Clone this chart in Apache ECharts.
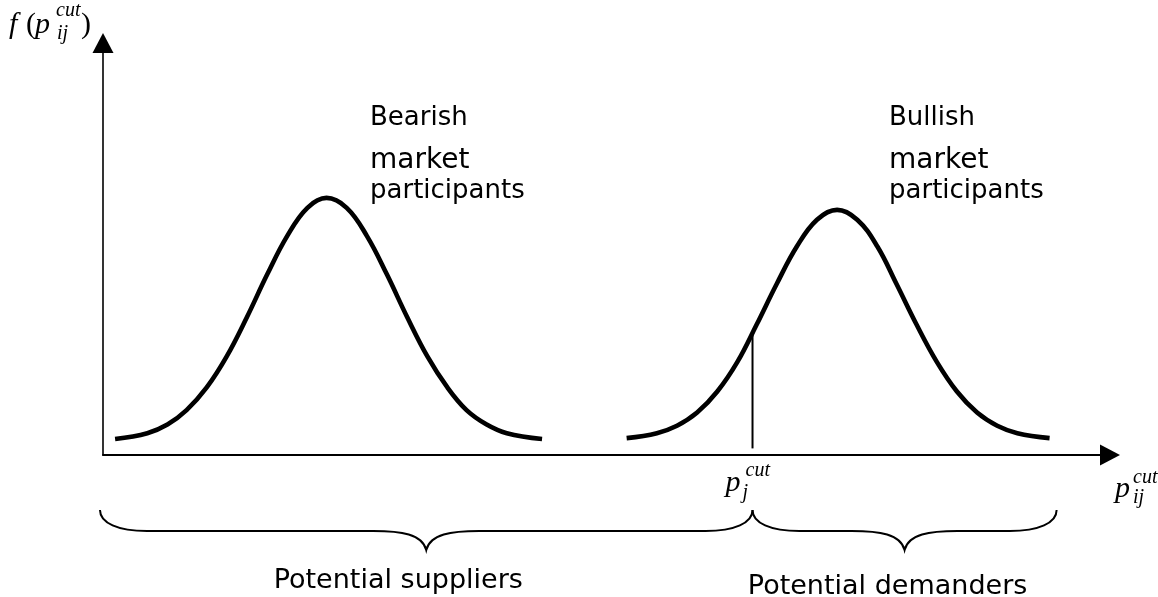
<!DOCTYPE html>
<html>
<head>
<meta charset="utf-8">
<script src="https://cdn.jsdelivr.net/npm/echarts@6/dist/echarts.min.js"></script>
<style>
  html, body { margin: 0; padding: 0; background: #fff; }
  #chart { width: 1158px; height: 597px; }
</style>
</head>
<body>
<div id="chart"></div>
<script>
// Price axis samples and density values for the two groups of participants
const bearishX = [1.2, 4.4, 6.4, 8.3, 10.3, 12.3, 14.3, 16.3, 18.3, 20.3, 22.2, 24.2, 26.2, 28.2, 30.2, 32.2, 34.2, 36.1, 38.1, 40.1, 43.6];
const bearishY = [3.9, 5.3, 7.4, 10.9, 16.4, 24.0, 33.5, 43.8, 53.2, 60.0, 62.4, 60.0, 53.2, 43.8, 33.5, 24.0, 16.4, 10.9, 7.4, 5.3, 3.9];
const bullishX = [52.0, 55.0, 57.0, 59.0, 61.0, 63.0, 64.9, 66.9, 68.9, 70.9, 72.9, 74.9, 76.9, 78.8, 80.8, 82.8, 84.8, 86.8, 88.8, 90.8, 94.0];
const bullishY = [4.1, 5.3, 7.1, 10.3, 15.4, 22.6, 31.6, 41.5, 50.6, 57.1, 59.5, 57.1, 50.6, 41.5, 31.6, 22.6, 15.4, 10.3, 7.1, 5.3, 4.1];

// Cut-off price and the density where the marker meets the bullish curve
const cutPrice = 64.5;
const cutDensity = 29.9;

// Brace spans along the price axis and their captions
const braceSpans = [[-0.3, 64.5], [64.5, 94.7]];
const braceLabels = ['Potential suppliers', 'Potential demanders'];

// Group captions above each curve
const groupTitles = [['Bearish', 'market', 'participants'], ['Bullish', 'market', 'participants']];

const SANS = '"DejaVu Sans", Verdana, sans-serif';
const SERIF = '"Liberation Serif", "Times New Roman", serif';

function zip(xs, ys) { return xs.map((x, i) => [x, ys[i]]); }

// text placed by its baseline (canvas draws with a middle baseline)
function txt(str, x, baseline, size, opts) {
  opts = opts || {};
  return {
    type: 'text',
    x: x,
    y: baseline - size * 0.3,
    silent: true,
    style: {
      text: str,
      fill: '#000',
      fontSize: size,
      fontFamily: opts.family || SANS,
      fontStyle: opts.italic ? 'italic' : 'normal',
      align: opts.align || 'left',
      verticalAlign: 'middle'
    }
  };
}

const chart = echarts.init(document.getElementById('chart'), null, { renderer: 'canvas' });

function axis(min, max, width) {
  return {
    type: 'value',
    min: min,
    max: max,
    axisLine: {
      show: true,
      onZero: false,
      symbol: ['none', 'triangle'],
      symbolSize: [21, 20],
      lineStyle: { color: '#000', width: width }
    },
    axisTick: { show: false },
    axisLabel: { show: false },
    splitLine: { show: false }
  };
}

const curveStyle = { color: '#000', width: 4.6 };

chart.setOption({
  animation: false,
  backgroundColor: '#fff',
  grid: { left: 103, right: 48, top: 43, bottom: 142 },
  xAxis: axis(0, 100, 2),
  yAxis: axis(0, 100, 1.6),
  series: [
    { type: 'line', data: zip(bearishX, bearishY), smooth: 0.4, symbol: 'none', lineStyle: curveStyle },
    { type: 'line', data: zip(bullishX, bullishY), smooth: 0.4, symbol: 'none', lineStyle: curveStyle },
    {
      type: 'line',
      data: [[cutPrice, 1.6], [cutPrice, cutDensity]],
      symbol: 'none',
      lineStyle: { color: '#000', width: 2 }
    },
    {
      type: 'custom',
      coordinateSystem: 'cartesian2d',
      clip: false,
      silent: true,
      encode: { x: [0, 1], y: 2 },
      data: braceSpans.map((s, i) => [s[0], s[1], i]),
      renderItem: function (params, api) {
        const a = api.coord([api.value(0), 0]);
        const b = api.coord([api.value(1), 0]);
        const x0 = a[0], x1 = b[0], xm = (x0 + x1) / 2;
        const top = a[1] + 55, mid = a[1] + 76, tip = a[1] + 95;
        const d = [
          'M', x0, top,
          'C', x0, top + 13, x0 + 18, mid, x0 + 47, mid,
          'L', xm - 53, mid,
          'C', xm - 25, mid, xm - 4, mid + 3, xm, tip,
          'C', xm + 4, mid + 3, xm + 25, mid, xm + 53, mid,
          'L', x1 - 47, mid,
          'C', x1 - 18, mid, x1, top + 13, x1, top
        ].join(' ');
        const idx = api.value(2);
        return {
          type: 'group',
          children: [
            { type: 'path', shape: { pathData: d }, style: { fill: 'none', stroke: '#000', lineWidth: 2 } },
            txt(braceLabels[idx], xm - (idx ? 17 : 28), a[1] + 134 + idx * 6, 27, { align: 'center' })
          ]
        };
      }
    }
  ]
});

// captions and axis symbols, anchored to axis positions
const cut = chart.convertToPixel({ gridIndex: 0 }, [cutPrice, 0]);
const xEnd = chart.convertToPixel({ gridIndex: 0 }, [100, 0]);

const elements = [];
const titleX = [370, 889];
groupTitles.forEach((lines, g) => {
  elements.push(txt(lines[0], titleX[g], 126, 26));
  elements.push(txt(lines[1], titleX[g], 169, 28));
  elements.push(txt(lines[2], titleX[g], 199, 26));
});

const it = { family: SERIF, italic: true };
const up = { family: SERIF };

// f(p_ij^cut) beside the vertical axis
elements.push(txt('f', 9, 34, 30, it));
elements.push(txt('(', 26, 34, 30, up));
elements.push(txt('p', 35, 34, 30, it));
elements.push(txt('cut', 56, 17, 20, it));
elements.push(txt('ij', 57, 40, 20, it));
elements.push(txt(')', 81, 34, 30, up));

// p_j^cut under the cut-off marker
elements.push(txt('p', cut[0] - 27, cut[1] + 37, 30, it));
elements.push(txt('j', cut[0] - 10, cut[1] + 44, 20, it));
elements.push(txt('cut', cut[0] - 7, cut[1] + 22, 20, it));

// p_ij^cut beyond the price axis arrow
elements.push(txt('p', xEnd[0] + 5, cut[1] + 43, 30, it));
elements.push(txt('cut', xEnd[0] + 23, cut[1] + 29, 20, it));
elements.push(txt('ij', xEnd[0] + 23, cut[1] + 49, 20, it));

chart.setOption({ graphic: { elements: elements } });
</script>
</body>
</html>
